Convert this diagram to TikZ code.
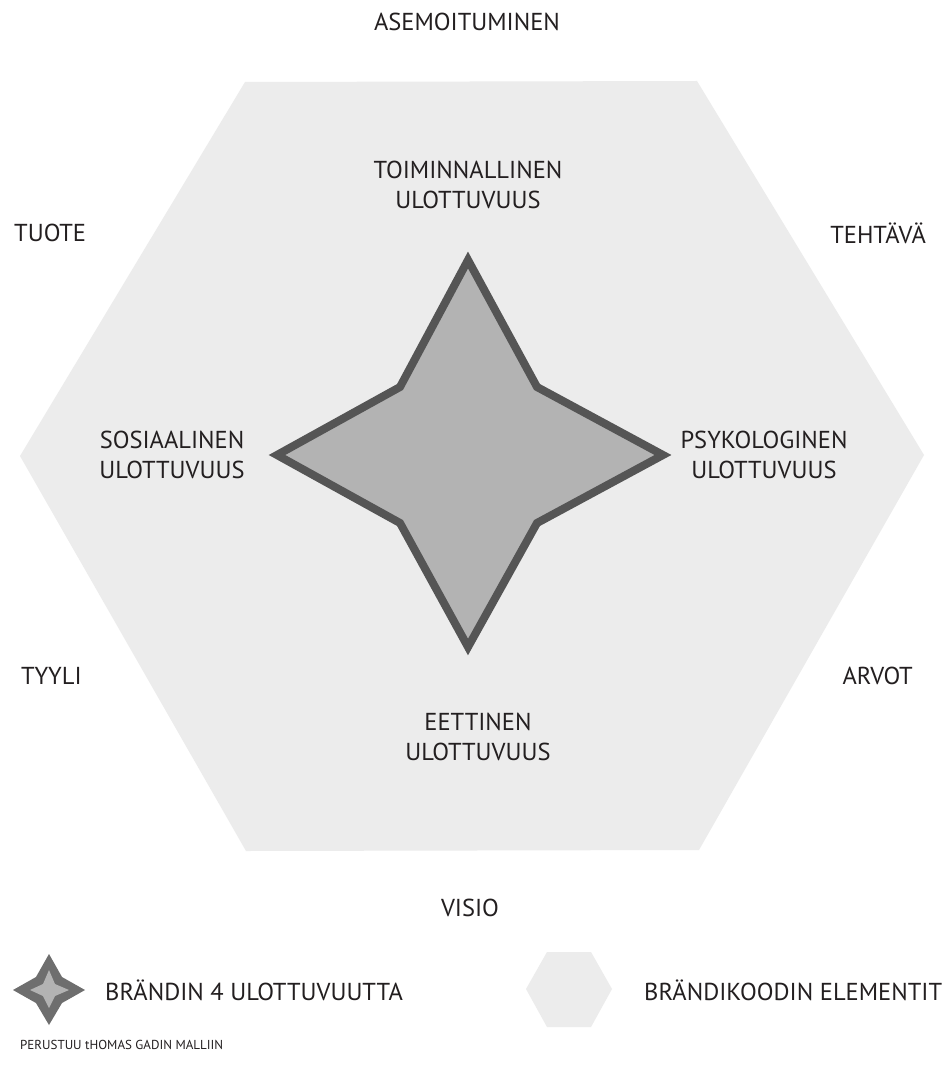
\documentclass[tikz,border=0pt]{standalone}
\usepackage{fontspec}
\setmainfont{PT Sans}
\definecolor{hexgray}{HTML}{ECECEC}
\definecolor{stargray}{HTML}{B3B3B3}
\definecolor{starline}{HTML}{555555}
\definecolor{legline}{HTML}{6E6E6E}
\definecolor{txt}{HTML}{231F20}
\begin{document}
\begin{tikzpicture}[x=1pt,y=-1pt,
  lbl/.style={text=txt,font=\fontsize{24.5}{30}\selectfont,inner sep=0pt,align=center},
  small/.style={text=txt,font=\fontsize{13}{16}\selectfont,inner sep=0pt}]
\useasboundingbox (0,0) rectangle (947,1075);
\fill[white] (0,0) rectangle (947,1075);
% main hexagon
\fill[hexgray] (245,82) -- (697,81) -- (924,455) -- (699,850) -- (246,851) -- (20,456) -- cycle;
% star
\draw[starline,fill=stargray,line width=8pt,line join=miter]
  (468,260) -- (537,387) -- (663,455) -- (537,523) -- (468,647) -- (400,523) -- (277,455) -- (400,387) -- cycle;
% labels
\node[lbl] (asem) at (467,22) {ASEMOITUMINEN};
\node[lbl] (toim) at (468,185) {TOIMINNALLINEN\\ULOTTUVUUS};
\node[lbl,anchor=west] (tuote) at (14,233) {TUOTE};
\node[lbl,anchor=east] (teht) at (926,233) {TEHTÄVÄ};
\node[lbl] (sos) at (172,455) {SOSIAALINEN\\ULOTTUVUUS};
\node[lbl] (psy) at (764,455) {PSYKOLOGINEN\\ULOTTUVUUS};
\node[lbl,anchor=west] (tyyli) at (21,676) {TYYLI};
\node[lbl,anchor=east] (arvot) at (913,676) {ARVOT};
\node[lbl] (eet) at (478,737) {EETTINEN\\ULOTTUVUUS};
\node[lbl] (visio) at (470,908) {VISIO};
% legend
\fill[legline] (49,954) -- (62,977) -- (85,990) -- (62,1003) -- (49,1025) -- (36,1003) -- (13,990) -- (36,977) -- cycle;
\fill[stargray] (49,970) -- (55,984) -- (69,990) -- (55,996) -- (49,1008) -- (43,996) -- (30,990) -- (43,984) -- cycle;
\node[lbl,anchor=west] (leg1) at (105,990) {BRÄNDIN 4 ULOTTUVUUTTA};
\fill[hexgray] (547,952) -- (591,952) -- (612,989) -- (591,1027) -- (547,1027) -- (526,989) -- cycle;
\node[lbl,anchor=west] (leg2) at (644,990) {BRÄNDIKOODIN ELEMENTIT};
\node[small,anchor=west] (src) at (20,1045) {PERUSTUU tHOMAS GADIN MALLIIN};
\end{tikzpicture}
\end{document}
